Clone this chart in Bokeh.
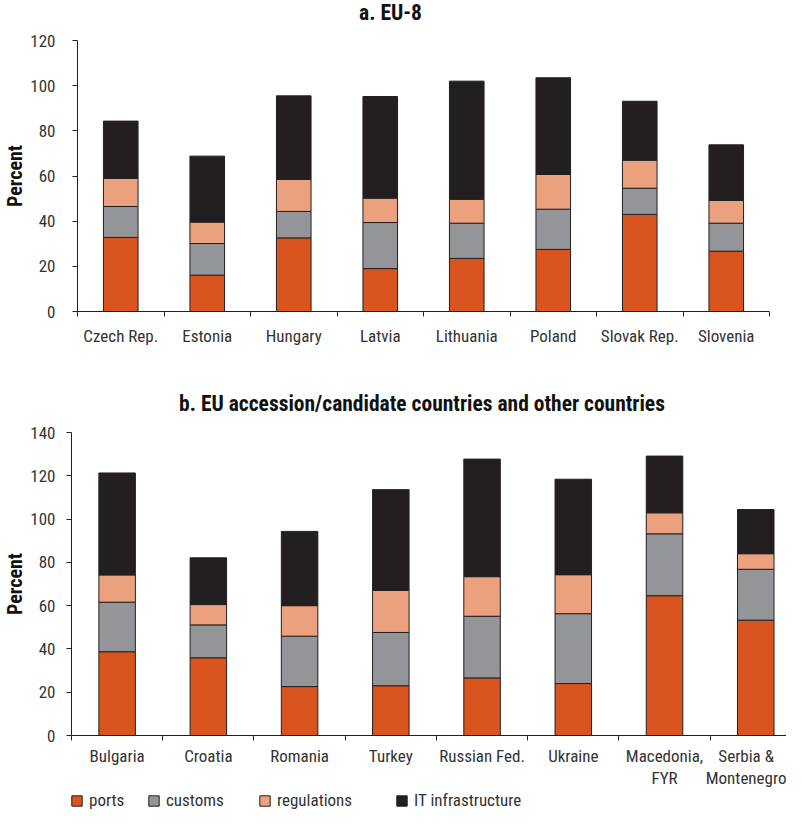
import numpy as np
from bokeh.plotting import figure
from bokeh.layouts import column
from bokeh.embed import file_html
from bokeh.resources import INLINE
from bokeh.models import (ColumnDataSource, FixedTicker, SingleIntervalTicker,
                          Legend, LegendItem, Div)

# ---------------- data ----------------
segments = ["ports", "customs", "regulations", "it"]
segment_labels = ["ports", "customs", "regulations", "IT infrastructure"]
colors = ["#D9541F", "#949599", "#EBA17E", "#231F20"]

eu8_countries = ["Czech Rep.", "Estonia", "Hungary", "Latvia", "Lithuania",
                 "Poland", "Slovak Rep.", "Slovenia"]
eu8_ports = [32.8, 16.1, 32.6, 19.0, 23.5, 27.5, 43.0, 26.7]
eu8_customs = [13.7, 14.0, 11.7, 20.4, 15.6, 17.8, 11.6, 12.4]
eu8_regulations = [12.4, 9.5, 14.2, 10.8, 10.6, 15.4, 12.4, 10.1]
eu8_it = [25.4, 29.2, 37.0, 45.0, 52.3, 42.8, 26.1, 24.6]

oth_countries = ["Bulgaria", "Croatia", "Romania", "Turkey", "Russian Fed.",
                 "Ukraine", "Macedonia,\nFYR", "Serbia &\nMontenegro"]
oth_ports = [38.7, 35.9, 22.6, 23.0, 26.6, 24.0, 64.6, 53.3]
oth_customs = [22.9, 15.2, 23.3, 24.6, 28.5, 32.3, 28.6, 23.5]
oth_regulations = [12.6, 9.4, 14.1, 19.5, 18.3, 18.0, 9.7, 7.2]
oth_it = [47.1, 21.6, 34.3, 46.5, 54.3, 44.1, 26.2, 20.4]

eu8_title = "a. EU-8"
oth_title = "b. EU accession/candidate countries and other countries"
y_label = "Percent"

FONT = "Roboto Condensed"
TXT = "#333333"
AX = "#231F20"
W = 786


def make_panel(countries, ports, customs, regs, it, y_end, x_end,
               height, mb_left, mb_right, mb_top, mb_bottom,
               ylab_standoff, xlab_standoff):
    n = len(countries)
    centers = [i + 0.5 for i in range(n)]
    bounds = [float(i) for i in range(n + 1)]
    src = ColumnDataSource(dict(x=centers, ports=ports, customs=customs,
                                regulations=regs, it=it))
    p = figure(width=W, height=height, x_range=(0, x_end), y_range=(0, y_end),
               output_backend="svg", toolbar_location=None,
               min_border_left=mb_left, min_border_right=mb_right,
               min_border_top=mb_top, min_border_bottom=mb_bottom)
    p.outline_line_color = None
    p.grid.visible = False
    p.vbar_stack(segments, x="x", width=0.40, source=src, color=colors,
                 line_color=AX, line_width=1)

    xa = p.xaxis[0]
    xa.ticker = FixedTicker(ticks=centers, minor_ticks=bounds)
    xa.major_label_overrides = {c: lab for c, lab in zip(centers, countries)}
    xa.major_tick_out = 0
    xa.major_tick_in = 0
    xa.minor_tick_out = 5
    xa.minor_tick_in = 0
    xa.axis_line_color = AX
    xa.minor_tick_line_color = AX
    xa.major_label_text_font = FONT
    xa.major_label_text_font_size = "17px"
    xa.major_label_text_line_height = 1.1
    xa.major_label_text_color = TXT
    xa.major_label_standoff = xlab_standoff

    ya = p.yaxis[0]
    ya.ticker = SingleIntervalTicker(interval=20, num_minor_ticks=0)
    ya.major_tick_out = 5
    ya.major_tick_in = 0
    ya.minor_tick_out = 0
    ya.axis_line_color = AX
    ya.major_tick_line_color = AX
    ya.major_label_text_font = FONT
    ya.major_label_text_font_size = "17px"
    ya.major_label_text_color = TXT
    ya.major_label_standoff = ylab_standoff
    ya.axis_label = y_label
    ya.axis_label_text_font = FONT
    ya.axis_label_text_font_size = "20px"
    ya.axis_label_text_font_style = "bold"
    ya.axis_label_text_color = "#111111"
    ya.axis_label_standoff = 0
    return p


def title_div(text, height, line_height, indent):
    return Div(text=text, width=W, height=height, margin=0,
               styles={"font-family": FONT, "font-size": "21.5px",
                       "font-weight": "bold", "color": "#111111",
                       "text-align": "center", "line-height": f"{line_height}px",
                       "text-indent": f"{indent}px", "white-space": "nowrap",
                       "overflow": "visible"})


# panel a: page y 8..390
div_a = title_div(eu8_title, 30, 26, -5)
pa = make_panel(eu8_countries, eu8_ports, eu8_customs, eu8_regulations, eu8_it,
                120, 8, 352, 71, 17, 10, 71, 17, 9)

# panel b: page y 390..798
div_b = title_div(oth_title, 40, 43, 58)
pb = make_panel(oth_countries, oth_ports, oth_customs, oth_regulations, oth_it,
                140, 721 / 92.0, 368, 65, 0, 10, 54, 11, 5)

# legend strip: page y 798..818 (proxy renderers carry no drawable values)
pl = figure(width=W, height=20, x_range=(0, 1), y_range=(0, 1),
            output_backend="svg", toolbar_location=None,
            x_axis_location=None, y_axis_location=None,
            min_border_left=0, min_border_right=0,
            min_border_top=0, min_border_bottom=0)
pl.outline_line_color = None
pl.grid.visible = False
legend_x = [70, 147, 258, 395]
for seg, lab, col, lx in zip(segments, segment_labels, colors, legend_x):
    r = pl.vbar(x=np.array([np.nan]), top=np.array([np.nan]), width=0.4,
                fill_color=col, line_color=AX, line_width=1)
    lg = Legend(items=[LegendItem(label=lab, renderers=[r])], location=(lx, 0),
                orientation="horizontal", glyph_width=13, glyph_height=13,
                label_standoff=6, label_height=13, padding=0, margin=0,
                border_line_color=None, background_fill_alpha=0,
                label_text_font=FONT, label_text_font_size="17px",
                label_text_color=TXT)
    pl.add_layout(lg, "center")

root_a = column(div_a, pa)
root_b = column(div_b, pb)
open("out.html", "w").write(file_html([root_a, root_b, pl], INLINE))
